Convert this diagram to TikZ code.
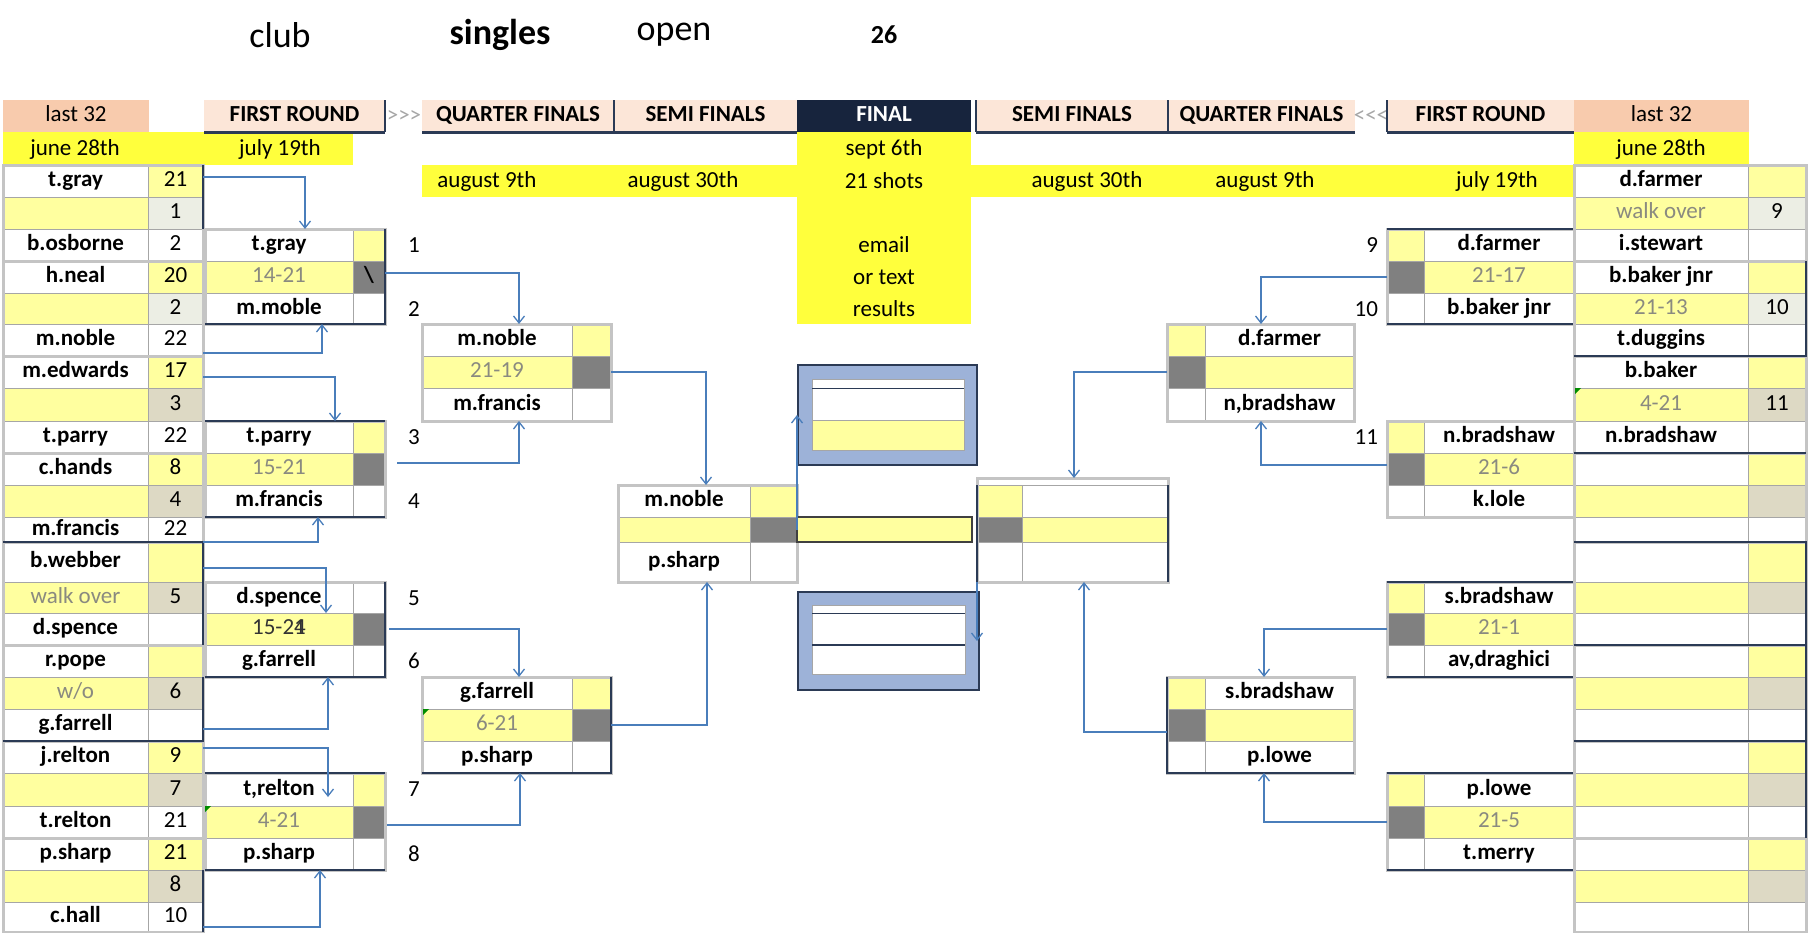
\documentclass[tikz,border=0pt]{standalone}
\usepackage{fontspec}
\setmainfont{Carlito}
\usetikzlibrary{arrows.meta}

\definecolor{paleyellow}{HTML}{FFFF9F}
\definecolor{bandyellow}{HTML}{FFFF3C}
\definecolor{peach}{HTML}{F8CBAD}
\definecolor{lightpeach}{HTML}{FCE6D8}
\definecolor{navy}{HTML}{17243D}
\definecolor{darkcell}{HTML}{808080}
\definecolor{beige}{HTML}{DDD9C4}
\definecolor{palegrey}{HTML}{ECEEE4}
\definecolor{gridgrey}{HTML}{A6A6A6}
\definecolor{framegrey}{HTML}{C4C4C4}
\definecolor{edgenavy}{HTML}{2B3A55}
\definecolor{scoregrey}{HTML}{8A8A80}
\definecolor{linkblue}{HTML}{4A7EBB}
\definecolor{boxblue}{HTML}{9DB2D8}

\newcommand{\cellfont}{\fontsize{11.5}{13}\selectfont}

\tikzset{
  cell/.style={rectangle, draw=gridgrey, line width=0.5pt, fill=white, inner sep=0pt,
    outer sep=0pt, text height=8pt, text depth=2.5pt, font=\cellfont},
  nm/.style={cell, font=\cellfont\bfseries},
  nmy/.style={cell, fill=paleyellow},
  sc/.style={cell, fill=paleyellow, text=scoregrey},
  scd/.style={cell, fill=paleyellow, text=black!80},
  num/.style={cell},
  numy/.style={cell, fill=paleyellow},
  numl/.style={cell, fill=palegrey},
  numb/.style={cell, fill=beige},
  dk/.style={cell, fill=darkcell, font=\cellfont\bfseries},
  hdr/.style={cell, draw=none, fill=lightpeach, font=\cellfont\bfseries},
  hdrlast/.style={cell, draw=none, fill=peach},
  hdrfinal/.style={cell, draw=none, fill=navy, text=white, font=\cellfont\bfseries},
  finalbox/.style={cell, fill=boxblue, draw=edgenavy, line width=0.8pt},
  barcell/.style={cell, fill=paleyellow, draw=black!75, line width=0.8pt},
  lbl/.style={font=\cellfont},
  arrowtxt/.style={font=\cellfont, text=gridgrey},
  ttl/.style={font=\fontsize{18}{21}\selectfont},
  link/.style={draw=linkblue, line width=0.65pt, -{Straight Barb[length=3.5pt,width=5.5pt]}},
  frame/.style={draw=framegrey, line width=1.5pt},
  edge/.style={draw=edgenavy, line width=1pt}
}

% one cell: name, style, x1, y1, x2, y2, text
\newcommand{\cellat}[7]{%
  \node[#2, minimum width={(#5-#3)*0.5pt}, minimum height={(#6-#4)*0.5pt}] (#1) at ({(#3+#5)/2},{(#4+#6)/2}) {#7};}
% one table row, name left: prefix, y1, y2, name style, name, score style, score
\newcommand{\rowL}[7]{%
  \cellat{#1n}{#4}{\colA}{#2}{\colB}{#3}{#5}%
  \cellat{#1s}{#6}{\colB}{#2}{\colC}{#3}{#7}}
% one table row, score left
\newcommand{\rowR}[7]{%
  \cellat{#1s}{#6}{\colA}{#2}{\colB}{#3}{#7}%
  \cellat{#1n}{#4}{\colB}{#2}{\colC}{#3}{#5}}

\begin{document}
\begin{tikzpicture}[x=0.5pt, y=-0.5pt]
    \useasboundingbox (0,0) rectangle (1808,932);

    % Title line
    \node[ttl] (tClub) at (280,35) {club};
    \node[ttl, font=\fontsize{18}{21}\selectfont\bfseries] (tSingles) at (500,35) {singles};
    \node[ttl] (tOpen) at (674,35) {open};
    \node[font=\fontsize{13}{15}\selectfont\bfseries] (tNum) at (884,35) {26};

    % Yellow bands
    \fill[bandyellow] (3,132) rectangle (353,165);
    \fill[bandyellow] (422,165) rectangle (797,197);
    \fill[bandyellow] (797,132) rectangle (971,324);
    \fill[bandyellow] (971,165) rectangle (1574,197);
    \fill[bandyellow] (1574,132) rectangle (1749,165);

    % Round headers
    \cellat{hL32}{hdrlast}{3}{100}{149}{132}{last 32}
    \cellat{hLFR}{hdr}{204}{100}{385}{132}{FIRST ROUND}
    \node[arrowtxt] (gtL) at (404,116) {>{}>{}>};
    \cellat{hLQF}{hdr}{422}{100}{614}{132}{QUARTER FINALS}
    \cellat{hLSF}{hdr}{614}{100}{797}{132}{SEMI FINALS}
    \cellat{hFIN}{hdrfinal}{797}{100}{971}{132}{FINAL}
    \cellat{hRSF}{hdr}{976}{100}{1168}{132}{SEMI FINALS}
    \cellat{hRQF}{hdr}{1168}{100}{1355}{132}{QUARTER FINALS}
    \node[arrowtxt] (ltR) at (1371,116) {<{}<{}<};
    \cellat{hRFR}{hdr}{1387}{100}{1574}{132}{FIRST ROUND}
    \cellat{hR32}{hdrlast}{1574}{100}{1749}{132}{last 32}
    \foreach \h in {hLFR,hLQF,hLSF,hRSF,hRQF,hRFR}
      \draw[edge, line width=1.5pt] (\h.south west) -- (\h.south east);
    \draw[edge] (hLFR.north east) -- (hLFR.south east);
    \draw[edge] (hLQF.north east) -- (hLQF.south east);
    \draw[edge] (hRSF.north west) -- (hRSF.south west);
    \draw[edge] (hRQF.north west) -- (hRQF.south west);
    \draw[edge] (hRFR.north west) -- (hRFR.south west);

    % Dates
    \node[lbl] (dL32) at (75,149) {june 28th};
    \node[lbl] (dLFR) at (280,149) {july 19th};
    \node[lbl] (dLQF) at (487,181) {august 9th};
    \node[lbl] (dLSF) at (683,181) {august 30th};
    \node[lbl] (fDate) at (884,149) {sept 6th};
    \node[lbl] (fShots) at (884,181) {21 shots};
    \node[lbl] (fEmail) at (884,245) {email};
    \node[lbl] (fText) at (884,277) {or text};
    \node[lbl] (fRes) at (884,309) {results};
    \node[lbl] (dRSF) at (1087,181) {august 30th};
    \node[lbl] (dRQF) at (1265,181) {august 9th};
    \node[lbl] (dRFR) at (1497,181) {july 19th};
    \node[lbl] (dR32) at (1661,149) {june 28th};

    % Left last 32
    \def\colA{3}\def\colB{148}\def\colC{203}
    \rowL{L2}{165}{197}{nm}{t.gray}{numy}{21}
    \rowL{L3}{197}{229}{nmy}{}{numl}{1}
    \rowL{L4}{229}{261}{nm}{b.osborne}{num}{2}
    \rowL{L5}{261}{293}{nm}{h.neal}{numy}{20}
    \rowL{L6}{293}{324}{nmy}{}{numl}{2}
    \rowL{L7}{324}{356}{nm}{m.noble}{num}{22}
    \rowL{L8}{356}{388}{nm}{m.edwards}{numy}{17}
    \rowL{L9}{388}{421}{nmy}{}{numb}{3}
    \rowL{L10}{421}{453}{nm}{t.parry}{num}{22}
    \rowL{L11}{453}{485}{nm}{c.hands}{numy}{8}
    \rowL{L12}{485}{517}{nmy}{}{numb}{4}
    \rowL{L13}{517}{542}{nm}{m.francis}{num}{22}
    \rowL{L14}{542}{582}{nm}{b.webber}{numy}{}
    \rowL{L15}{582}{613}{sc}{walk over}{numb}{5}
    \rowL{L16}{613}{645}{nm}{d.spence}{num}{}
    \rowL{L17}{645}{677}{nm}{r.pope}{numy}{}
    \rowL{L18}{677}{709}{sc}{w/o}{numb}{6}
    \rowL{L19}{709}{741}{nm}{g.farrell}{num}{}
    \rowL{L20}{741}{773}{nm}{j.relton}{numy}{9}
    \rowL{L21}{773}{806}{nmy}{}{numb}{7}
    \rowL{L22}{806}{838}{nm}{t.relton}{num}{21}
    \rowL{L23}{838}{870}{nm}{p.sharp}{numy}{21}
    \rowL{L24}{870}{902}{nmy}{}{numb}{8}
    \rowL{L25}{902}{932}{nm}{c.hall}{num}{10}
    \foreach \ya/\yb in {165/261,261/356,356/453,453/542,542/645,645/741,741/838,838/932}
      \draw[frame] (3,\ya) rectangle (203,\yb);
    \draw[edge] (203,165) -- (203,229);
    \draw[edge] (3,542) -- (203,542) -- (203,645);
    \draw[edge] (203,677) -- (203,741) -- (3,741);
    \draw[edge] (203,870) -- (203,932);

    % Left first round
    \def\colA{205}\def\colB{353}\def\colC{385}
    \rowL{F1t}{229}{261}{nm}{t.gray}{numy}{}
    \rowL{F1m}{261}{293}{sc}{14-21}{dk}{\textbackslash}
    \rowL{F1b}{293}{324}{nm}{m.moble}{num}{}
    \rowL{F2t}{421}{453}{nm}{t.parry}{numy}{}
    \rowL{F2m}{453}{485}{sc}{15-21}{dk}{}
    \rowL{F2b}{485}{517}{nm}{m.francis}{num}{}
    \rowL{F3t}{582}{613}{nm}{d.spence}{num}{}
    \rowL{F3m}{613}{645}{scd}{15-2\rlap{1}4}{dk}{}
    \rowL{F3b}{645}{677}{nm}{g.farrell}{num}{}
    \rowL{F4t}{773}{806}{nm}{t,relton}{numy}{}
    \rowL{F4m}{806}{838}{sc}{4-21}{dk}{}
    \rowL{F4b}{838}{870}{nm}{p.sharp}{num}{}
    \foreach \ya/\yb in {229/324,421/517,582/677,773/870}
      \draw[frame] (205,\ya) rectangle (385,\yb);
    \draw[edge] (385,229) -- (385,324) -- (205,324);
    \draw[edge] (205,421) -- (385,421);
    \draw[edge] (205,517) -- (385,517);
    \draw[edge] (385,582) -- (385,677) -- (205,677);
    \draw[edge] (205,773) -- (385,773);
    \draw[edge] (205,870) -- (385,870);
    \fill[green!55!black] (205,806) -- (211,806) -- (205,812) -- cycle;

    % Left quarter finals
    \def\colA{422}\def\colB{572}\def\colC{611}
    \rowL{Q1t}{324}{356}{nm}{m.noble}{numy}{}
    \rowL{Q1m}{356}{388}{sc}{21-19}{dk}{}
    \rowL{Q1b}{388}{421}{nm}{m.francis}{num}{}
    \rowL{Q2t}{677}{709}{nm}{g.farrell}{numy}{}
    \rowL{Q2m}{709}{741}{sc}{6-21}{dk}{}
    \rowL{Q2b}{741}{773}{nm}{p.sharp}{num}{}
    \draw[frame] (422,324) rectangle (611,421);
    \draw[frame] (422,677) rectangle (611,773);
    \draw[edge] (611,677) -- (611,773) -- (422,773);
    \fill[green!55!black] (423,709) -- (429,709) -- (423,715) -- cycle;

    % Left semi final
    \def\colA{618}\def\colB{750}\def\colC{797}
    \rowL{SFt}{485}{517}{nm}{m.noble}{numy}{}
    \rowL{SFm}{517}{542}{nmy}{}{dk}{}
    \rowL{SFb}{542}{582}{nm}{p.sharp}{num}{}
    \draw[frame] (618,485) rectangle (797,582);
    \cellat{sfBar}{barcell}{797}{517}{972}{542}{}

    % Final boxes
    \cellat{fTop}{finalbox}{798}{365}{977}{465}{}
    \fill[white] (812,379) rectangle (964,420);
    \fill[paleyellow] (812,420) rectangle (964,450);
    \draw[gridgrey] (812,379) rectangle (964,450);
    \draw[edgenavy] (812,388) -- (964,388);
    \draw[gridgrey] (812,420) -- (964,420);
    \cellat{fBot}{finalbox}{798}{592}{979}{690}{}
    \fill[white] (812,605) rectangle (965,674);
    \draw[gridgrey] (812,605) rectangle (965,674);
    \draw[edgenavy] (812,613) -- (965,613);
    \draw[edgenavy, line width=1pt] (812,645) -- (965,645);

    % Right semi final
    \def\colA{977}\def\colB{1022}\def\colC{1168}
    \rowR{RSFt}{485}{517}{nm}{}{numy}{}
    \rowR{RSFm}{517}{542}{nmy}{}{dk}{}
    \rowR{RSFb}{542}{582}{nm}{}{num}{}
    \draw[frame] (977,478) rectangle (1168,582);
    \draw[edge] (977,485) -- (977,582);
    \draw[edge] (1168,485) -- (1168,582);

    % Right quarter finals
    \def\colA{1167}\def\colB{1205}\def\colC{1354}
    \rowR{RQ1t}{324}{356}{nm}{d.farmer}{numy}{}
    \rowR{RQ1m}{356}{388}{nmy}{}{dk}{}
    \rowR{RQ1b}{388}{421}{nm}{n,bradshaw}{num}{}
    \rowR{RQ2t}{677}{709}{nm}{s.bradshaw}{numy}{}
    \rowR{RQ2m}{709}{741}{nmy}{}{dk}{}
    \rowR{RQ2b}{741}{773}{nm}{p.lowe}{num}{}
    \draw[frame] (1167,324) rectangle (1354,421);
    \draw[frame] (1167,677) rectangle (1354,773);
    \draw[edge] (1167,677) -- (1167,773) -- (1354,773);

    % Right first round
    \def\colA{1387}\def\colB{1424}\def\colC{1574}
    \rowR{RF1t}{229}{261}{nm}{d.farmer}{numy}{}
    \rowR{RF1m}{261}{293}{sc}{21-17}{dk}{}
    \rowR{RF1b}{293}{324}{nm}{b.baker jnr}{num}{}
    \rowR{RF2t}{421}{453}{nm}{n.bradshaw}{numy}{}
    \rowR{RF2m}{453}{485}{sc}{21-6}{dk}{}
    \rowR{RF2b}{485}{517}{nm}{k.lole}{num}{}
    \rowR{RF3t}{582}{613}{nm}{s.bradshaw}{numy}{}
    \rowR{RF3m}{613}{645}{sc}{21-1}{dk}{}
    \rowR{RF3b}{645}{677}{nm}{av,draghici}{num}{}
    \rowR{RF4t}{773}{806}{nm}{p.lowe}{numy}{}
    \rowR{RF4m}{806}{838}{sc}{21-5}{dk}{}
    \rowR{RF4b}{838}{870}{nm}{t.merry}{num}{}
    \foreach \ya/\yb in {229/324,421/517,582/677,773/870}
      \draw[frame] (1387,\ya) rectangle (1574,\yb);
    \draw[edge] (1387,229) -- (1574,229);
    \draw[edge] (1387,324) -- (1574,324);
    \draw[edge] (1387,582) -- (1574,582) -- (1574,677) -- (1387,677);
    \draw[edge] (1387,773) -- (1574,773);
    \draw[edge] (1387,870) -- (1574,870);

    % Right last 32
    \def\colA{1574}\def\colB{1748}\def\colC{1806}
    \rowL{R2}{165}{197}{nm}{d.farmer}{numy}{}
    \rowL{R3}{197}{229}{sc}{walk over}{numl}{9}
    \rowL{R4}{229}{261}{nm}{i.stewart}{num}{}
    \rowL{R5}{261}{293}{nm}{b.baker jnr}{numy}{}
    \rowL{R6}{293}{324}{sc}{21-13}{numl}{10}
    \rowL{R7}{324}{356}{nm}{t.duggins}{num}{}
    \rowL{R8}{356}{388}{nm}{b.baker}{numy}{}
    \rowL{R9}{388}{421}{sc}{4-21}{numb}{11}
    \rowL{R10}{421}{453}{nm}{n.bradshaw}{num}{}
    \foreach \k/\ya/\yb/\yc/\yd in {11/453/485/517/542,14/542/582/613/645,17/645/677/709/741,20/741/773/806/838,23/838/870/902/932} {
      \rowL{R\k a}{\ya}{\yb}{nm}{}{numy}{}
      \rowL{R\k b}{\yb}{\yc}{nmy}{}{numb}{}
      \rowL{R\k c}{\yc}{\yd}{nm}{}{num}{}
    }
    \foreach \ya/\yb in {165/261,261/356,356/453,453/542,542/645,645/741,741/838,838/932}
      \draw[frame] (1574,\ya) rectangle (1806,\yb);
    \draw[edge] (1806,261) -- (1806,356) -- (1574,356);
    \draw[edge] (1574,453) -- (1806,453);
    \draw[edge] (1574,542) -- (1806,542) -- (1806,838);
    \draw[edge] (1574,645) -- (1806,645);
    \draw[edge] (1574,741) -- (1806,741);
    \fill[green!55!black] (1575,388) -- (1581,388) -- (1575,394) -- cycle;

    % Match numbers
    \node[lbl] (n1) at (414,245) {1};
    \node[lbl] (n2) at (414,309) {2};
    \node[lbl] (n3) at (414,437) {3};
    \node[lbl] (n4) at (414,501) {4};
    \node[lbl] (n5) at (414,598) {5};
    \node[lbl] (n6) at (414,661) {6};
    \node[lbl] (n7) at (414,789) {7};
    \node[lbl] (n8) at (414,854) {8};
    \node[lbl, anchor=east] (n9) at (1385,245) {9};
    \node[lbl, anchor=east] (n10) at (1385,309) {10};
    \node[lbl, anchor=east] (n11) at (1385,437) {11};

    % Left side connectors
    \coordinate (a1) at (305,229);
    \coordinate (a2) at (322,324);
    \coordinate (a3) at (335,421);
    \coordinate (a4) at (318,517);
    \coordinate (a5) at (326,613);
    \coordinate (a6) at (328,677);
    \coordinate (a7) at (328,797);
    \coordinate (a8) at (320,870);
    \draw[link] ([yshift=2pt]L2s.east) -| (a1);
    \draw[link] ([yshift=1.5pt]L7s.south east) -| (a2);
    \draw[link] ([yshift=-2.5pt]L8s.east) -| (a3);
    \draw[link] (L13s.south east) -| (a4);
    \draw[link] ([yshift=-3pt]L14s.east) -| (a5);
    \draw[link] ([yshift=-2pt]L19s.east) -| (a6);
    \draw[link] ([yshift=4.5pt]L20s.east) -| (a7);
    \draw[link] ([yshift=-5pt]L25s.east) -| (a8);

    \coordinate (b1) at (519,324);
    \coordinate (b2) at (519,421);
    \coordinate (b3) at (519,677);
    \coordinate (b4) at (520,773);
    \draw[link] ([yshift=2pt]F1ms.east) -| (b1);
    \draw[link] ([xshift=6pt,yshift=3pt]F2ms.east) -| (b2);
    \draw[link] ([xshift=2pt]F3ms.east) -| (b3);
    \draw[link] ([xshift=1pt,yshift=-1.5pt]F4ms.east) -| (b4);

    \coordinate (c1) at (706,485);
    \coordinate (c2) at (707,582);
    \draw[link] (Q1ms.east) -| (c1);
    \draw[link] (Q2ms.east) -| (c2);
    \draw[link] (SFms.east) -- (SFms.east |- fTop.west);
    \draw[link] (RSFbs.south west) -- (RSFbs.south west |- fBot.east);

    % Right side connectors
    \coordinate (h1) at (1261,324);
    \coordinate (h2) at (1261,421);
    \coordinate (h3) at (1264,677);
    \coordinate (h4) at (1264,773);
    \coordinate (h5) at (1074,478);
    \coordinate (h6) at (1084,582);
    \draw[link] (RF1ms.west) -| (h1);
    \draw[link] ([yshift=2pt]RF2ms.west) -| (h2);
    \draw[link] (RF3ms.west) -| (h3);
    \draw[link] (RF4ms.west) -| (h4);
    \draw[link] (RQ1ms.west) -| (h5);
    \draw[link] ([yshift=-3.5pt]RQ2ms.west) -| (h6);

\end{tikzpicture}
\end{document}
